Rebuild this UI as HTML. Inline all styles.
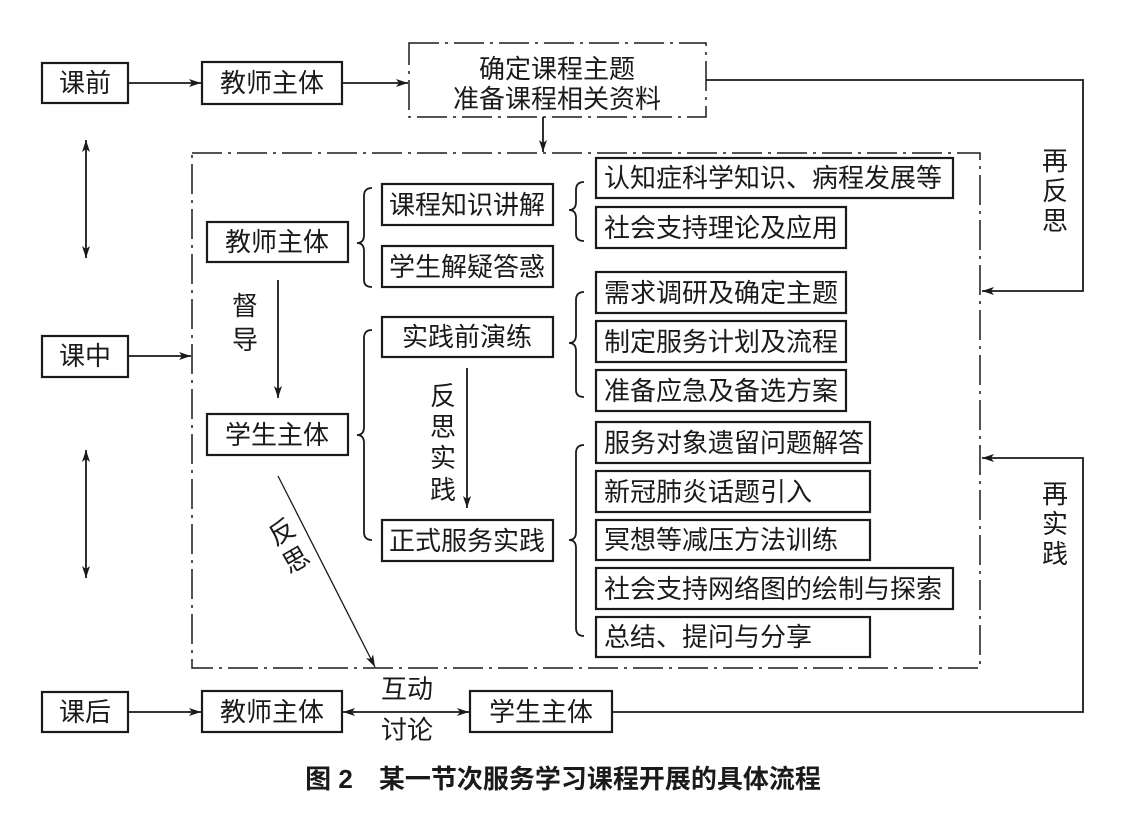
<!DOCTYPE html>
<html><head><meta charset="utf-8"><style>
html,body{margin:0;padding:0;background:#fff;}
svg{display:block;}
text{font-family:"Liberation Sans","Noto Sans CJK SC",sans-serif;fill:#1a1a1a;}
.b{fill:#fff;stroke:#1a1a1a;stroke-width:2.2;}
.l{stroke:#1a1a1a;stroke-width:1.8;fill:none;}
.d{stroke:#1a1a1a;stroke-width:1.5;fill:none;stroke-dasharray:30 6 3 6;}
.t{font-size:26px;text-anchor:middle;dominant-baseline:central;}
.s{font-size:26px;text-anchor:start;dominant-baseline:central;}
</style></head><body>
<svg width="1132" height="832" viewBox="0 0 1132 832" xmlns="http://www.w3.org/2000/svg">
<defs>
<marker id="a" viewBox="0 0 12 8" refX="12" refY="4" markerWidth="12" markerHeight="8" markerUnits="userSpaceOnUse" orient="auto-start-reverse"><path d="M0,0 L12,4 L0,8 L3,4 z" fill="#1a1a1a"/></marker>
</defs>
<rect class="d" x="409" y="43" width="297" height="74"/>
<text class="t" x="557" y="69">确定课程主题</text>
<text class="t" x="557" y="99">准备课程相关资料</text>
<rect class="d" x="192" y="153" width="788" height="515"/>
<line class="l" x1="543" y1="117" x2="543" y2="152" marker-end="url(#a)"/>
<rect class="b" x="42" y="63" width="86" height="40"/><text class="t" x="85" y="83">课前</text>
<rect class="b" x="42" y="336" width="86" height="41"/><text class="t" x="85" y="356">课中</text>
<rect class="b" x="42" y="692" width="86" height="40"/><text class="t" x="85" y="712">课后</text>
<line class="l" x1="128" y1="83" x2="201" y2="83" marker-end="url(#a)"/>
<line class="l" x1="128" y1="356" x2="191" y2="356" marker-end="url(#a)"/>
<line class="l" x1="128" y1="712" x2="201" y2="712" marker-end="url(#a)"/>
<line class="l" x1="86" y1="140" x2="86" y2="258" marker-start="url(#a)" marker-end="url(#a)"/>
<line class="l" x1="86" y1="450" x2="86" y2="578" marker-start="url(#a)" marker-end="url(#a)"/>
<rect class="b" x="202" y="62" width="140" height="42"/><text class="t" x="272" y="83">教师主体</text>
<line class="l" x1="342" y1="83" x2="408" y2="83" marker-end="url(#a)"/>
<polyline class="l" points="706,80 1083,80 1083,291 982,291" marker-end="url(#a)"/>
<polyline class="l" points="612,712 1083,712 1083,458 982,458" marker-end="url(#a)"/>
<text class="t" x="1055" y="161">再</text><text class="t" x="1055" y="191">反</text><text class="t" x="1055" y="221">思</text>
<text class="t" x="1055" y="494">再</text><text class="t" x="1055" y="524">实</text><text class="t" x="1055" y="554">践</text>
<rect class="b" x="207" y="222" width="141" height="40"/><text class="t" x="277" y="242">教师主体</text>
<rect class="b" x="207" y="414" width="141" height="41"/><text class="t" x="277" y="435">学生主体</text>
<line class="l" x1="278" y1="280" x2="278" y2="398" marker-end="url(#a)"/>
<text class="t" x="245" y="306">督</text><text class="t" x="245" y="340">导</text>
<rect class="b" x="382" y="184" width="171" height="41"/><text class="t" x="467" y="205">课程知识讲解</text>
<rect class="b" x="382" y="246" width="171" height="41"/><text class="t" x="467" y="267">学生解疑答惑</text>
<rect class="b" x="382" y="317" width="171" height="40"/><text class="t" x="467" y="337">实践前演练</text>
<rect class="b" x="382" y="520" width="171" height="41"/><text class="t" x="467" y="541">正式服务实践</text>
<line class="l" x1="467" y1="368" x2="467" y2="508" marker-end="url(#a)"/>
<text class="t" x="443" y="396">反</text><text class="t" x="443" y="427">思</text><text class="t" x="443" y="458">实</text><text class="t" x="443" y="490">践</text>
<line class="l" x1="278" y1="476" x2="375" y2="667" style="stroke-width:1.3" marker-end="url(#a)"/>
<text class="t" x="282" y="532" transform="rotate(-30 282 532)">反</text>
<text class="t" x="296" y="560" transform="rotate(-30 296 560)">思</text>
<path class="l" d="M372,188 Q364,188 364,196 L364,235 Q364,243 357,243 Q364,243 364,251 L364,280 Q364,287 372,287"/>
<path class="l" d="M372,330 Q364,330 364,338 L364,427 Q364,435 357,435 Q364,435 364,443 L364,532 Q364,540 372,540"/>
<path class="l" d="M584,182 Q576,182 576,190 L576,202 Q576,210 569,210 Q576,210 576,218 L576,234 Q576,241 584,241"/>
<path class="l" d="M584,292 Q576,292 576,300 L576,335 Q576,343 569,343 Q576,343 576,351 L576,390 Q576,397 584,397"/>
<path class="l" d="M584,445 Q576,445 576,453 L576,532 Q576,540 569,540 Q576,540 576,548 L576,628 Q576,636 584,636"/>
<rect class="b" x="596" y="158" width="357" height="40"/><text class="s" x="604" y="178">认知症科学知识、病程发展等</text>
<rect class="b" x="596" y="207" width="250" height="41"/><text class="s" x="604" y="228">社会支持理论及应用</text>
<rect class="b" x="596" y="272" width="250" height="41"/><text class="s" x="604" y="293">需求调研及确定主题</text>
<rect class="b" x="596" y="321" width="250" height="41"/><text class="s" x="604" y="342">制定服务计划及流程</text>
<rect class="b" x="596" y="370" width="250" height="41"/><text class="s" x="604" y="391">准备应急及备选方案</text>
<rect class="b" x="596" y="422" width="274" height="41"/><text class="s" x="604" y="443">服务对象遗留问题解答</text>
<rect class="b" x="596" y="471" width="274" height="41"/><text class="s" x="604" y="492">新冠肺炎话题引入</text>
<rect class="b" x="596" y="520" width="274" height="40"/><text class="s" x="604" y="540">冥想等减压方法训练</text>
<rect class="b" x="596" y="568" width="357" height="41"/><text class="s" x="604" y="589">社会支持网络图的绘制与探索</text>
<rect class="b" x="596" y="617" width="274" height="40"/><text class="s" x="604" y="637">总结、提问与分享</text>
<rect class="b" x="202" y="691" width="140" height="41"/><text class="t" x="272" y="712">教师主体</text>
<rect class="b" x="470" y="691" width="142" height="41"/><text class="t" x="541" y="712">学生主体</text>
<line class="l" x1="343" y1="712" x2="469" y2="712" marker-start="url(#a)" marker-end="url(#a)"/>
<text class="t" x="407" y="689">互动</text>
<text class="t" x="407" y="730">讨论</text>
<text x="563" y="779" style="font-size:26px;font-weight:bold;text-anchor:middle;dominant-baseline:central;">图 2　某一节次服务学习课程开展的具体流程</text>
</svg>
</body></html>
